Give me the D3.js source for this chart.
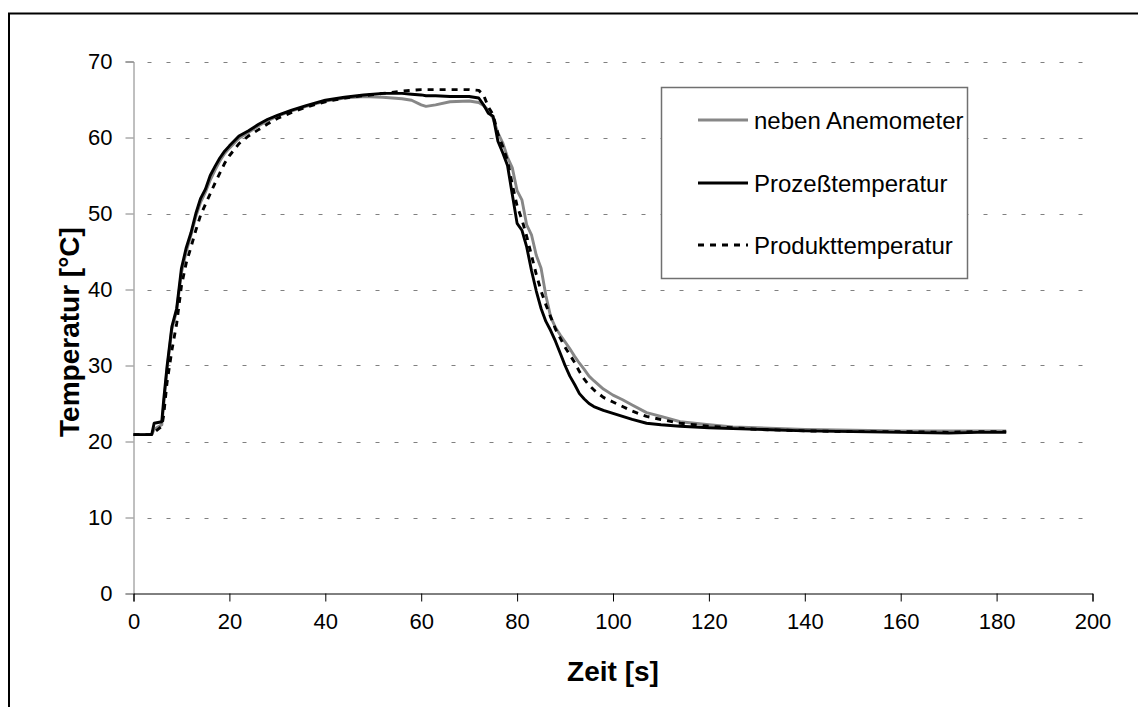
<!DOCTYPE html>
<html>
<head>
<meta charset="utf-8">
<script src="https://cdn.jsdelivr.net/npm/d3@7"></script>
<style>
  body { margin: 0; background: #fff; }
  text { font-family: "Liberation Sans", Arial, sans-serif; fill: #000; }
</style>
</head>
<body>
<svg id="chart" width="1138" height="707"></svg>
<script>
// time axis [s]
var zeit = [0, 3.8, 4.3, 5.9, 6.3, 7, 8, 9, 10, 11,
  12, 13, 14, 15, 16, 17, 18, 19, 20, 22,
  24, 26, 28, 30, 33, 36, 40, 44, 48, 52,
  56, 58, 60, 61, 63, 66, 70, 72, 73, 74,
  75, 76, 77, 78, 79, 80, 81, 82, 83, 84,
  85, 86, 87, 88, 89, 90, 91, 92, 93, 94,
  95, 96, 98, 100, 102, 104, 107, 110, 114, 120,
  125, 130, 140, 150, 160, 170, 176, 182];

var nebenAnemometer = [20.9, 20.9, 21.6, 22.2, 24.8, 29.5, 34.8, 37.2, 42.2, 45.0,
  47.2, 49.6, 51.5, 52.8, 54.4, 55.7, 56.9, 57.9, 58.6, 59.9,
  60.7, 61.5, 62.2, 62.8, 63.5, 64.1, 64.8, 65.2, 65.4, 65.3,
  65.1, 64.9, 64.3, 64.1, 64.3, 64.7, 64.8, 64.6, 64.2, 63.6,
  62.5, 60.6, 59.3, 57.4, 56.0, 53.0, 51.8, 48.5, 47.2, 44.5,
  42.8, 39.2, 36.4, 35.0, 34.0, 33.1, 32.2, 31.2, 30.3, 29.5,
  28.6, 28.0, 26.9, 26.1, 25.5, 24.8, 23.8, 23.3, 22.6, 22.2,
  21.9, 21.8, 21.6, 21.5, 21.4, 21.4, 21.4, 21.4];

var prozesstemperatur = [20.9, 20.9, 22.4, 22.6, 25.5, 29.9, 35.1, 37.5, 42.8, 45.5,
  47.5, 50.0, 52.0, 53.2, 55.0, 56.2, 57.3, 58.2, 58.9, 60.2,
  60.9, 61.7, 62.4, 62.9, 63.6, 64.2, 64.9, 65.3, 65.6, 65.8,
  65.8, 65.7, 65.6, 65.5, 65.5, 65.4, 65.4, 65.2, 64.3, 63.2,
  62.8, 59.5, 58.0, 56.3, 52.5, 48.7, 47.8, 45.6, 42.5, 39.8,
  37.5, 35.8, 34.6, 33.2, 31.6, 30.0, 28.6, 27.5, 26.3, 25.6,
  25.0, 24.6, 24.1, 23.7, 23.3, 22.9, 22.4, 22.2, 22.0, 21.8,
  21.7, 21.6, 21.4, 21.3, 21.2, 21.1, 21.2, 21.2];

var produkttemperatur = [20.9, 20.9, 21.2, 22.0, 23.5, 27.8, 32.0, 35.5, 40.5, 43.5,
  45.6, 47.8, 49.8, 51.2, 52.6, 54.0, 55.3, 56.6, 57.6, 59.2,
  60.2, 61.0, 61.8, 62.5, 63.3, 64.0, 64.7, 65.2, 65.5, 65.8,
  66.1, 66.2, 66.3, 66.3, 66.3, 66.3, 66.3, 66.2, 65.6, 64.0,
  63.0, 60.5, 58.8, 57.0, 53.8, 51.0, 49.2, 47.0, 44.5, 42.0,
  39.8, 38.0, 36.4, 34.8, 33.6, 32.4, 31.4, 30.4, 29.2, 28.2,
  27.4, 26.8, 25.8, 25.2, 24.6, 24.0, 23.3, 22.9, 22.4, 22.0,
  21.8, 21.6, 21.4, 21.3, 21.3, 21.2, 21.3, 21.3];

var seriesNames = ["neben Anemometer", "Prozeßtemperatur", "Produkttemperatur"];
var xTicks = [0, 20, 40, 60, 80, 100, 120, 140, 160, 180, 200];
var yTicks = [0, 10, 20, 30, 40, 50, 60, 70];

var svg = d3.select("#chart");

// outer frame
svg.append("rect")
  .attr("x", 9).attr("y", 13.5)
  .attr("width", 1150).attr("height", 720)
  .attr("fill", "#fff").attr("stroke", "#000").attr("stroke-width", 2);

var x = d3.scaleLinear().domain([0, 200]).range([133.5, 1092.5]);
var y = d3.scaleLinear().domain([0, 70]).range([593.5, 61.5]);

// gridlines
svg.append("g").selectAll("line")
  .data(yTicks.filter(d => d > 0))
  .enter().append("line")
  .attr("x1", x(0)).attr("x2", x(200))
  .attr("y1", d => Math.round(y(d)) + 0.5).attr("y2", d => Math.round(y(d)) + 0.5)
  .attr("stroke", "#808080").attr("stroke-width", 1)
  .attr("stroke-dasharray", "4,15")
  .attr("stroke-dashoffset", -14);

// y axis
var yAxis = svg.append("g")
  .attr("transform", `translate(${x(0)},0)`)
  .call(d3.axisLeft(y).tickValues(yTicks).tickSize(8).tickPadding(13));
yAxis.selectAll("path, line").attr("stroke", "#808080");
yAxis.selectAll("text").style("font-size", "22px")
  .style("font-family", "'Liberation Sans', Arial, sans-serif");

// x axis
var xAxis = svg.append("g")
  .attr("transform", `translate(0,${y(0)})`)
  .call(d3.axisBottom(x).tickValues(xTicks).tickSize(8).tickSizeOuter(8).tickPadding(12));
xAxis.selectAll("path, line").attr("stroke", "#000");
xAxis.selectAll("text").style("font-size", "22px")
  .style("font-family", "'Liberation Sans', Arial, sans-serif");

// axis titles
svg.append("text")
  .attr("x", 613).attr("y", 681)
  .attr("text-anchor", "middle")
  .style("font-size", "28px").style("font-weight", "bold")
  .text("Zeit [s]");

svg.append("text")
  .attr("transform", "translate(79,332) rotate(-90)")
  .attr("text-anchor", "middle")
  .style("font-size", "28px").style("font-weight", "bold")
  .text("Temperatur [°C]");

// series lines
var styles = [
  { color: "#878787", dash: null },
  { color: "#000", dash: null },
  { color: "#000", dash: "6,6" }
];
var allSeries = [nebenAnemometer, prozesstemperatur, produkttemperatur];

var line = d3.line()
  .x(d => x(d[0]))
  .y(d => y(d[1]));

allSeries.forEach(function (vals, i) {
  svg.append("path")
    .datum(zeit.map((t, k) => [t, vals[k]]))
    .attr("d", line)
    .attr("fill", "none")
    .attr("stroke", styles[i].color)
    .attr("stroke-width", 2.9)
    .attr("stroke-linejoin", "round")
    .attr("stroke-dasharray", styles[i].dash);
});

// legend
var legend = svg.append("g");
legend.append("rect")
  .attr("x", 661.5).attr("y", 87.5)
  .attr("width", 306).attr("height", 191)
  .attr("fill", "#fff").attr("stroke", "#707070").attr("stroke-width", 1.5);

var legendY = [120, 183, 245];
seriesNames.forEach(function (name, i) {
  legend.append("line")
    .attr("x1", 698).attr("x2", 748)
    .attr("y1", legendY[i]).attr("y2", legendY[i])
    .attr("stroke", styles[i].color)
    .attr("stroke-width", 2.9)
    .attr("stroke-dasharray", styles[i].dash);
  legend.append("text")
    .attr("x", 754).attr("y", legendY[i])
    .attr("dy", "0.36em")
    .style("font-size", "24px")
    .text(name);
});
</script>
</body>
</html>
